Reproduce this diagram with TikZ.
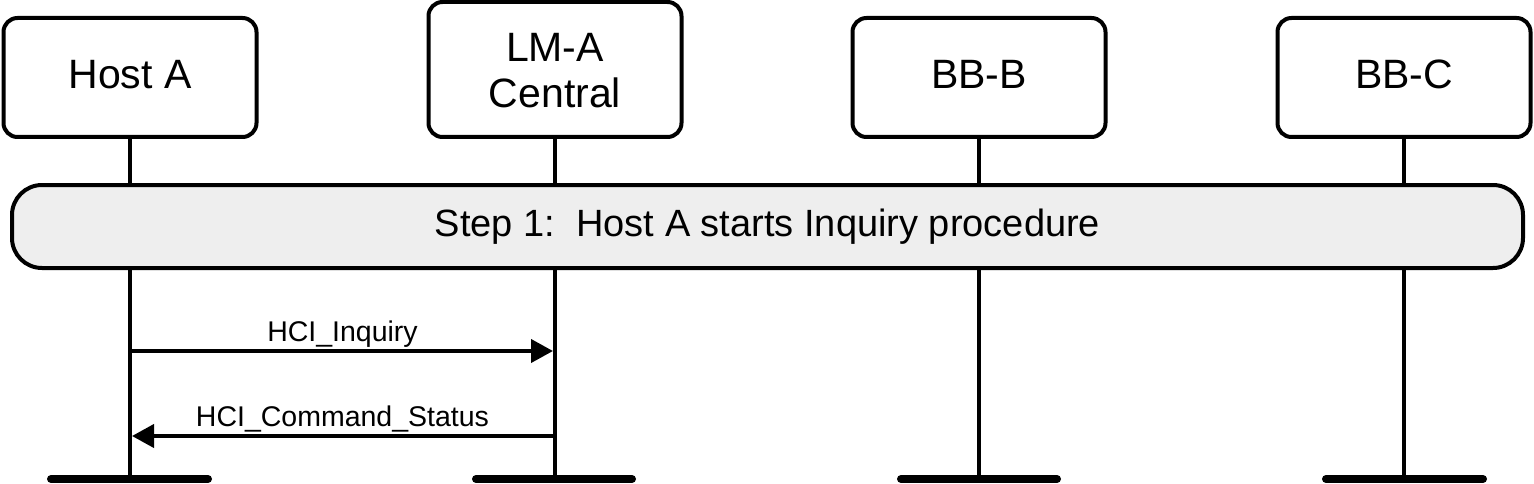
\documentclass[tikz,border=0pt]{standalone}
\usepackage{fontspec}
\setmainfont{Liberation Sans}
\usetikzlibrary{arrows.meta}
\definecolor{stepfill}{RGB}{238,238,238}
\begin{document}
\begin{tikzpicture}[x=1pt,y=-1pt,
  lbox/.style={draw=black, fill=white, line width=4pt, rounded corners=14pt, minimum width=253pt, inner sep=0pt},
  big/.style={font=\fontsize{41}{46}\selectfont, inner sep=0pt, anchor=base, align=center},
  msg/.style={font=\fontsize{28.5}{32}\selectfont, inner sep=0pt, anchor=base},
  life/.style={line width=4pt},
  foot/.style={line width=8pt, line cap=round},
  arr/.style={line width=4pt, -{Triangle[length=22pt,width=23pt]}},
  stepbox/.style={draw=black, fill=stepfill, line width=4pt, rounded corners=30pt, minimum width=1511pt, minimum height=83pt, inner sep=0pt}
]
\useasboundingbox (0,0) rectangle (1534,484);
% header boxes
\node[lbox, minimum height=119pt] (ha) at (130,77.5) {};
\node[lbox, minimum height=135pt] (lm) at (555,69.5) {};
\node[lbox, minimum height=119pt] (bb) at (979,77.5) {};
\node[lbox, minimum height=119pt] (bc) at (1404,77.5) {};
% foot coordinates
\coordinate (haf) at (130,479);
\coordinate (lmf) at (555,479);
\coordinate (bbf) at (979,479);
\coordinate (bcf) at (1404,479);
% lifelines
\draw[life] (ha.south) -- (haf);
\draw[life] (lm.south) -- (lmf);
\draw[life] (bb.south) -- (bbf);
\draw[life] (bc.south) -- (bcf);
% foot bars
\draw[foot] ([xshift=-79pt]haf) -- ([xshift=78pt]haf);
\draw[foot] ([xshift=-79pt]lmf) -- ([xshift=77pt]lmf);
\draw[foot] ([xshift=-78pt]bbf) -- ([xshift=78pt]bbf);
\draw[foot] ([xshift=-78pt]bcf) -- ([xshift=79pt]bcf);
% labels
\node[big] (hat) at (130,89) {Host A};
\node[big] (lmt) at (555,108) {LM-A\\Central};
\node[big] (bbt) at (979,89) {BB-B};
\node[big] (bct) at (1404,89) {BB-C};
% step box
\node[stepbox] (step) at (767.5,226.5) {};
\node[font=\fontsize{38}{42}\selectfont, inner sep=0pt, anchor=base] (stept) at (767.5,236) {Step 1:\ \ Host A starts Inquiry procedure};
% messages
\coordinate (m1a) at (130,351);
\coordinate (m1b) at (555,351);
\coordinate (m2a) at (555,436);
\coordinate (m2b) at (130,436);
\draw[arr] (m1a) -- ([xshift=-2pt]m1b);
\node[msg] (m1t) at (342.5,341) {HCI\_Inquiry};
\draw[arr] (m2a) -- ([xshift=2pt]m2b);
\node[msg] (m2t) at (342.5,426) {HCI\_Command\_Status};
\end{tikzpicture}
\end{document}
